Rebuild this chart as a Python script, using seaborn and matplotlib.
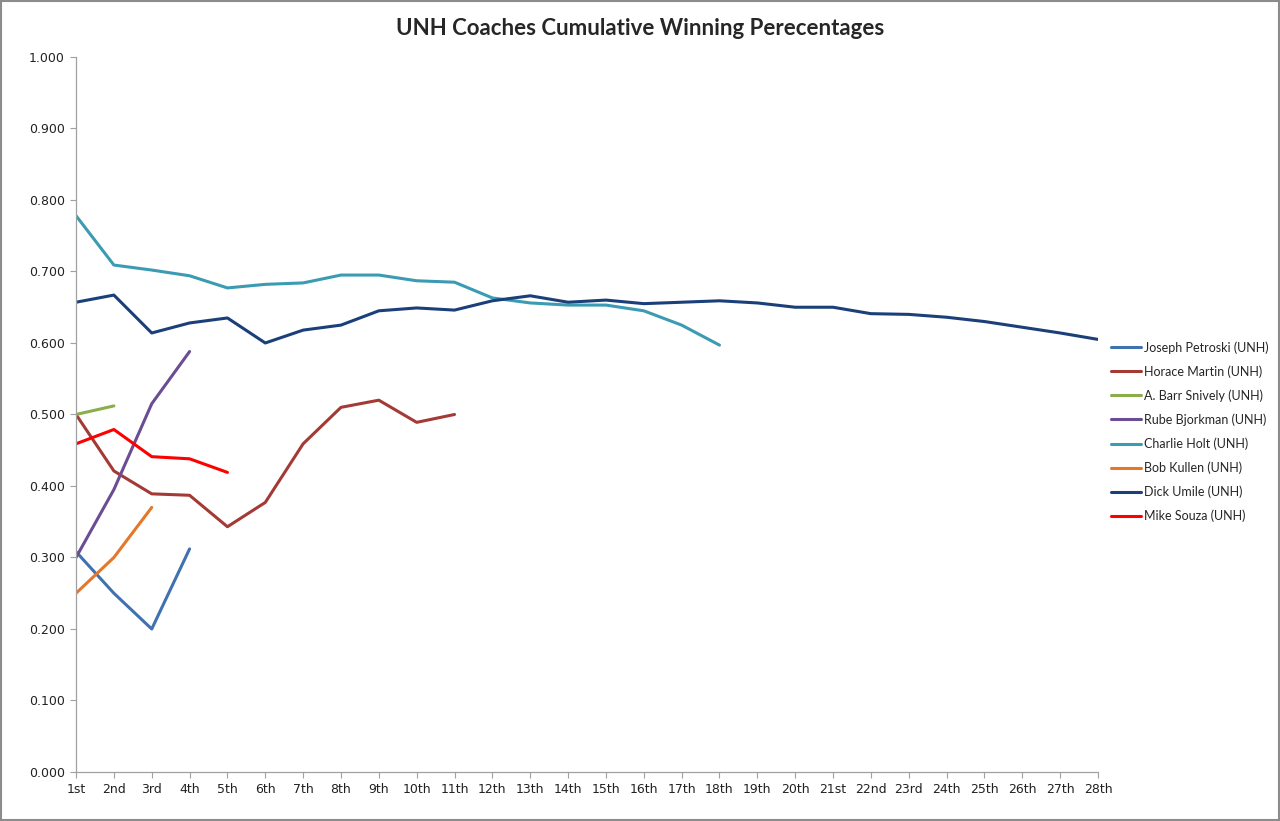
import pandas as pd
import numpy as np
import matplotlib
matplotlib.use('Agg')
import matplotlib.pyplot as plt
import seaborn as sns

# season labels
seasons = ['1st', '2nd', '3rd', '4th', '5th', '6th', '7th', '8th', '9th', '10th',
           '11th', '12th', '13th', '14th', '15th', '16th', '17th', '18th', '19th',
           '20th', '21st', '22nd', '23rd', '24th', '25th', '26th', '27th', '28th']

coaches = ['Joseph Petroski (UNH)', 'Horace Martin (UNH)', 'A. Barr Snively (UNH)',
           'Rube Bjorkman (UNH)', 'Charlie Holt (UNH)', 'Bob Kullen (UNH)',
           'Dick Umile (UNH)', 'Mike Souza (UNH)']

petroski = [0.308, 0.250, 0.200, 0.312]
martin = [0.500, 0.421, 0.389, 0.387, 0.343, 0.377, 0.459, 0.510, 0.520, 0.489, 0.500]
snively = [0.500, 0.512]
bjorkman = [0.300, 0.395, 0.515, 0.588]
holt = [0.778, 0.709, 0.702, 0.694, 0.677, 0.682, 0.684, 0.695, 0.695, 0.687,
        0.685, 0.663, 0.656, 0.653, 0.653, 0.645, 0.625, 0.597]
kullen = [0.250, 0.300, 0.370]
umile = [0.657, 0.667, 0.614, 0.628, 0.635, 0.600, 0.618, 0.625, 0.645, 0.649,
         0.646, 0.659, 0.666, 0.657, 0.660, 0.655, 0.657, 0.659, 0.656, 0.650,
         0.650, 0.641, 0.640, 0.636, 0.630, 0.622, 0.614, 0.605]
souza = [0.459, 0.479, 0.441, 0.438, 0.419]

colors = ['#3F72AF', '#A33A36', '#8AAE4A', '#6A4D92', '#3A9BB2', '#E3782A',
          '#1B3F78', '#FF0000']

series = [petroski, martin, snively, bjorkman, holt, kullen, umile, souza]
rows = []
for name, vals in zip(coaches, series):
    for i, v in enumerate(vals):
        rows.append({'season': i, 'pct': v, 'coach': name})
df = pd.DataFrame(rows)

sns.set_style('white')
fig = plt.figure(figsize=(12.8, 8.21), dpi=100)
ax = fig.add_axes([0.0594, 0.0597, 0.7984, 0.8709])

sns.lineplot(data=df, x='season', y='pct', hue='coach', hue_order=coaches,
             palette=colors, linewidth=2.2, sort=False, ax=ax)

ax.set_xlim(0, len(seasons) - 1)
ax.set_ylim(0, 1.0)
ax.set_xticks(range(len(seasons)))
ax.set_xticklabels(seasons, fontsize=9, color='#222222')
ax.set_yticks(np.arange(0, 1.01, 0.1))
ax.set_yticklabels([f'{v:.3f}' for v in np.arange(0, 1.01, 0.1)], fontsize=9,
                   color='#222222')
ax.tick_params(axis='both', direction='out', length=4, width=0.8, color='#A0A0A0',
               bottom=True, left=True, pad=4)
ax.set_xlabel('')
ax.set_ylabel('')
for side in ['top', 'right']:
    ax.spines[side].set_visible(False)
for side in ['left', 'bottom']:
    ax.spines[side].set_color('#A0A0A0')
    ax.spines[side].set_linewidth(0.9)

leg = ax.legend(loc='upper left', bbox_to_anchor=(1.005, 0.613), frameon=False,
                prop={'family': ['Lato', 'DejaVu Sans'], 'size': 9},
                handlelength=2.4, handletextpad=0.25, labelspacing=0.92,
                borderaxespad=0.2)
for line in leg.get_lines():
    line.set_linewidth(2.2)

fig.suptitle('UNH Coaches Cumulative Winning Perecentages', x=0.5, y=0.978,
             fontsize=16, fontweight='bold', family=['Lato', 'DejaVu Sans'])

# outer border of the chart area
fig.patches.append(plt.Rectangle((0.001, 0.001), 0.998, 0.998, transform=fig.transFigure,
                                 fill=False, edgecolor='#8C8C8C', linewidth=1.5))

fig.savefig('out.png', dpi=100)
